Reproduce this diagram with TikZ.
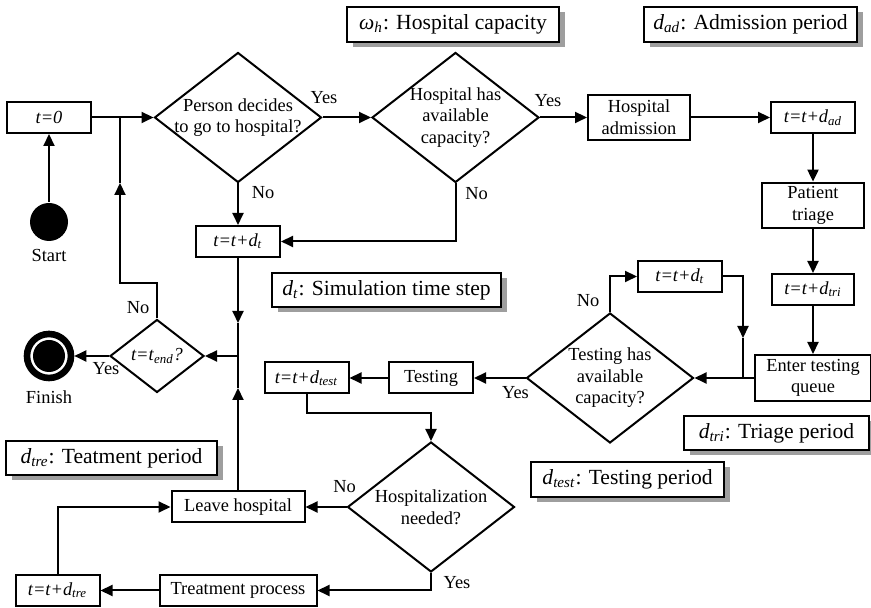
\documentclass[tikz,border=0pt]{standalone}
\usepackage{fontspec}
\setmainfont{Liberation Serif}
\usetikzlibrary{arrows.meta,shapes.geometric,shadows}

\tikzset{
  box/.style={draw, minimum width=42pt, minimum height=15.5pt, inner sep=2pt, align=center},
  decision/.style={draw, diamond, inner sep=0pt, minimum width=83.5pt, minimum height=65pt},
  info/.style={draw, fill=white, font=\fontsize{10.8}{12}\selectfont, minimum height=17.25pt, inner sep=0pt,
    drop shadow={shadow xshift=3pt, shadow yshift=-2.5pt, fill=black!38, opacity=1}},
  arr/.style={-{Triangle[length=6pt,width=5.5pt]}},
}

\begin{document}
\begin{tikzpicture}[x=5pt, y=5pt, line width=1pt, font=\fontsize{9.2}{10.8}\selectfont]
\useasboundingbox (0,0) rectangle (87.1,60.8);

% parameters
\node[info, minimum width=106pt] (capinfo) at (45.3,58.35) {\textit{ω}\textsubscript{\textit{h}}: Hospital capacity};
\node[info, minimum width=106.5pt] (adinfo) at (75.05,58.35) {\textit{d}\textsubscript{\textit{ad}}: Admission period};
\node[info, minimum width=114.5pt] (dtinfo) at (38.65,31.8) {\textit{d}\textsubscript{\textit{t}}: Simulation time step};
\node[info, minimum width=92.5pt] (triinfo) at (77.65,17.5) {\textit{d}\textsubscript{\textit{tri}}: Triage period};
\node[info, minimum width=96.5pt] (testinfo) at (62.75,12.85) {\textit{d}\textsubscript{\textit{test}}: Testing period};
\node[info, minimum width=105.5pt] (treinfo) at (11.15,15.0) {\textit{d}\textsubscript{\textit{tre}}: Teatment period};

% start / finish
\node[circle, fill=black, minimum size=19pt, inner sep=0pt, label=below:Start] (start) at (4.9,38.6) {};
\node[circle, draw=black, fill=white, line width=3.3pt, minimum size=22pt, inner sep=0pt, label={[yshift=-1pt]below:Finish}] (finish) at (4.9,25.2) {};
\fill (finish) circle (8pt);

% main flow
\node[box] (t0) at (4.9,49.05) {\textit{t=0}};
\node[decision, label={[align=center]center:Person decides\\to go to hospital?}] (ask) at (23.8,49.05) {};
\node[decision, label={[align=center]center:Hospital has\\available\\capacity?}] (hcap) at (45.55,49.05) {};
\node[box, minimum width=51pt, minimum height=22.5pt] (admit) at (63.9,49.05) {Hospital\\admission};
\node[box] (tad) at (81.3,49.05) {\textit{t=t+d}\textsubscript{\textit{ad}}};
\node[box, minimum width=51pt, minimum height=22.5pt] (triage) at (81.3,40.25) {Patient\\triage};
\node[box, minimum width=41pt] (ttri) at (81.3,31.85) {\textit{t=t+d}\textsubscript{\textit{tri}}};
\node[box, minimum width=58pt, minimum height=23pt] (queue) at (81.3,23.0) {Enter testing\\queue};
\node[decision, label={[align=center]center:Testing has\\available\\capacity?}] (tcap) at (61.0,23.0) {};
\node[box] (tdt2) at (68.0,33.15) {\textit{t=t+d}\textsubscript{\textit{t}}};
\node[box] (testing) at (43.1,23.0) {Testing};
\node[box] (ttest) at (30.65,23.0) {\textit{t=t+d}\textsubscript{\textit{test}}};
\node[decision, label={[align=center]center:Hospitalization\\needed?}] (hneed) at (43.1,10.1) {};
\node[box, minimum width=66.5pt] (leave) at (23.8,10.1) {Leave hospital};
\node[box, minimum width=78.5pt] (treat) at (23.8,1.75) {Treatment process};
\node[box] (ttre) at (5.75,1.75) {\textit{t=t+d}\textsubscript{\textit{tre}}};
\node[box] (tdt1) at (23.8,36.65) {\textit{t=t+d}\textsubscript{\textit{t}}};
\node[decision, minimum width=47pt, minimum height=36.5pt, label={center:\textit{t=t}\textsubscript{\textit{end}}\textit{?}}] (tend) at (15.7,25.2) {};

% bends and joins
\coordinate (j0) at (12.0,49.05);
\coordinate (l1) at (12.0,32.5);
\coordinate (l2) at (12.0,42.5);
\coordinate (jt) at (23.8,25.2);
\coordinate (d1) at (23.8,28.5);
\coordinate (u1) at (23.8,22.0);
\coordinate (jq) at (74.3,23.0);
\coordinate (q1) at (74.3,27.0);

\draw[arr] (start) -- (t0);
\draw[arr] (t0) -- (ask);
\draw[arr] (ask) -- node[pos=0, xshift=0.75pt, yshift=10pt] {Yes} (hcap);
\draw[arr] (ask) -- node[pos=0, xshift=12.5pt, yshift=-4.5pt] {No} (tdt1);
\draw[arr] (hcap.south) |- node[pos=0, xshift=10.5pt, yshift=-5pt] {No} (tdt1.east);
\draw[arr] (hcap) -- node[pos=0, xshift=4pt, yshift=8.5pt] {Yes} (admit);
\draw[arr] (admit) -- (tad);
\draw[arr] (tad) -- (triage);
\draw[arr] (triage) -- (ttri);
\draw[arr] (ttri) -- (queue);
\draw[arr] (queue) -- (tcap);
\draw[arr] (tcap.north) |- node[pos=0, xshift=-11pt, yshift=5.5pt] {No} (tdt2.west);
\draw[arr] (tdt2.east) -| (q1);
\draw (q1) -- (jq);
\draw[arr] (tcap) -- node[pos=0, xshift=-5pt, yshift=-7.5pt] {Yes} (testing);
\draw[arr] (testing) -- (ttest);
\draw[arr] (ttest.south) -- ++(0,-1.9) -| (hneed.north);
\draw[arr] (hneed) -- node[pos=0, xshift=-1pt, yshift=10pt] {No} (leave);
\draw[arr] (hneed.south) |- node[pos=0, xshift=13pt, yshift=-5pt] {Yes} (treat.east);
\draw[arr] (treat) -- (ttre);
\draw[arr] (ttre.north) |- (leave.west);

% back to the time check
\draw[arr] (leave) -- (u1);
\draw (u1) -- (jt);
\draw[arr] (tdt1) -- (d1);
\draw (d1) -- (jt);
\draw[arr] (jt) -- (tend);
\draw[arr] (tend) -- node[pos=0, xshift=-1.5pt, yshift=-6.5pt] {Yes} (finish);
\draw[arr] (tend.north) |- node[pos=0, xshift=-9.5pt, yshift=5.5pt] {No} (l1) -- (l2);
\draw (l2) -- (j0);
\end{tikzpicture}
\end{document}
